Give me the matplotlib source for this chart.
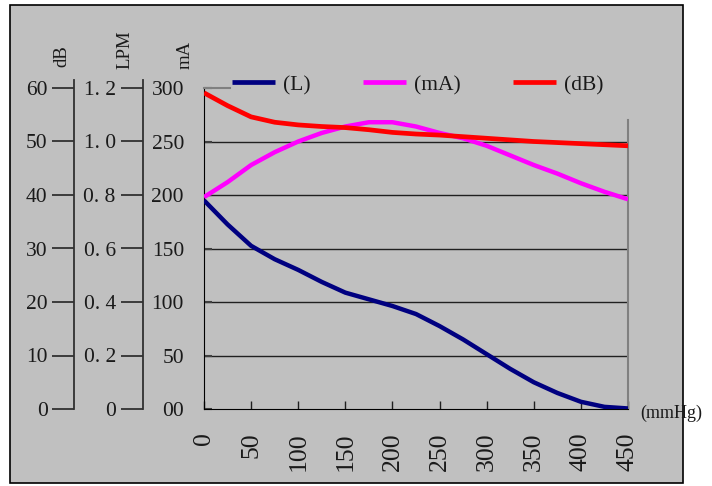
import matplotlib
matplotlib.use("Agg")
import matplotlib.pyplot as plt
from matplotlib.patches import Rectangle

plt.rcParams['font.family'] = ['Liberation Serif', 'DejaVu Serif']

# ---- data ----
pressure = [0, 25, 50, 75, 100, 125, 150, 175, 200, 225, 250, 275, 300, 325, 350, 375, 400, 425, 450]
flow_lpm = [0.78, 0.69, 0.61, 0.56, 0.52, 0.475, 0.435, 0.41, 0.385, 0.355, 0.31, 0.26, 0.205, 0.15, 0.10, 0.06, 0.027, 0.008, 0.002]
current_ma = [198, 212, 228, 240, 250, 258, 264, 268, 268, 264, 258, 253, 246, 237, 228, 220, 211, 203, 196]
noise_db = [59.1, 56.7, 54.6, 53.6, 53.1, 52.8, 52.6, 52.2, 51.7, 51.4, 51.2, 50.9, 50.6, 50.3, 50.0, 49.8, 49.6, 49.4, 49.2]

x_ticks = [0, 50, 100, 150, 200, 250, 300, 350, 400, 450]
ma_ticks = [0, 50, 100, 150, 200, 250, 300]
ma_labels = ['00', '50', '100', '150', '200', '250', '300']
lpm_ticks = [0, 0.2, 0.4, 0.6, 0.8, 1.0, 1.2]
lpm_labels = ['0', '0. 2', '0. 4', '0. 6', '0. 8', '1. 0', '1. 2']
db_ticks = [0, 10, 20, 30, 40, 50, 60]
db_labels = ['0', '10', '20', '30', '40', '50', '60']
grid_levels = [50, 100, 150, 200, 250]
series_names = ['(L)', '(mA)', '(dB)']

W, H = 712, 486
fig = plt.figure(figsize=(W / 100, H / 100), dpi=100)
fig.patch.set_facecolor('white')

def fx(px):
    return px / W

def fy(py):
    return 1 - py / H

# background frame
fig.patches.append(Rectangle((fx(10), fy(483)), fx(683) - fx(10), fy(5) - fy(483),
                             transform=fig.transFigure, facecolor='#C0C0C0',
                             edgecolor='black', linewidth=1.2, zorder=-10))

FS = 15.5
FSX = 18.5
TXT = '#1a1a1a'

# main axes
left, right, top, bottom = 204, 628, 88, 409
ax = fig.add_axes([fx(left), fy(bottom), fx(right) - fx(left), fy(top) - fy(bottom)])
ax.set_facecolor('none')
ax.set_xlim(0, 450)
ax.set_ylim(0, 300)
for lv in grid_levels:
    ax.axhline(lv, color='#202020', linewidth=1.0, zorder=1)
ax.spines['left'].set_color('black')
ax.spines['bottom'].set_color('black')
ax.spines['right'].set_color('#808080')
ax.spines['right'].set_linewidth(1.5)
ax.spines['right'].set_bounds(0, 270)
ax.spines['top'].set_color('#808080')
ax.spines['top'].set_linewidth(1.5)
ax.spines['top'].set_bounds(0, 28)
ax.set_xticks(x_ticks)
ax.set_xticklabels([str(v) for v in x_ticks], rotation=90, fontsize=FSX, color=TXT)
ax.set_yticks(ma_ticks)
ax.set_yticklabels(ma_labels, fontsize=FS, color=TXT)
ax.tick_params(axis='x', direction='in', length=6, width=1, color='#202020', pad=17)
ax.tick_params(axis='y', direction='in', length=6, width=1.5, color='#404040', pad=14.4)

# twin axes for other units (same pixel scale)
ax_l = ax.twinx()
ax_l.set_ylim(0, 1.2)
ax_d = ax.twinx()
ax_d.set_ylim(0, 60)
for t in (ax_l, ax_d):
    t.set_axis_off()

h1, = ax_l.plot(pressure, flow_lpm, color='#000080', linewidth=3.2, solid_capstyle='butt', zorder=3)
h2, = ax.plot(pressure, current_ma, color='#FF00FF', linewidth=3.2, solid_capstyle='butt', zorder=3)
h3, = ax_d.plot(pressure, noise_db, color='#FF0000', linewidth=3.4, solid_capstyle='butt', zorder=4)

leg = fig.legend([h1, h2, h3], series_names, loc='center left',
                 bbox_to_anchor=(fx(232), fy(85)), bbox_transform=fig.transFigure,
                 ncol=3, frameon=False, fontsize=FS, borderpad=0, borderaxespad=0,
                 handlelength=2.0, handletextpad=0.35, columnspacing=2.45)
for t in leg.get_texts():
    t.set_color(TXT)
for lh in leg.legend_handles:
    lh.set_linewidth(3.4)

# side axes: LPM and dB
side_top = 80
scale = (bottom - side_top) / (bottom - top)

def side_axis(px, ticks, labels, vmax, pad):
    a = fig.add_axes([fx(px), fy(bottom), 0.0005, fy(side_top) - fy(bottom)])
    a.set_facecolor('none')
    a.set_ylim(0, vmax * scale)
    a.set_xticks([])
    for s in ('top', 'right', 'bottom'):
        a.spines[s].set_visible(False)
    a.spines['left'].set_color('#303030')
    a.spines['left'].set_linewidth(1.3)
    a.set_yticks(ticks)
    a.set_yticklabels(labels, fontsize=FS, color=TXT)
    a.tick_params(axis='y', direction='out', length=16, width=1.3, color='#303030', pad=pad)
    return a

side_axis(143, lpm_ticks, lpm_labels, 1.2, 3.6)
side_axis(74, db_ticks, db_labels, 60, 2.9)

# axis unit labels
fig.text(fx(62), fy(67), 'dB', rotation=90, ha='center', va='bottom', fontsize=13.5, color=TXT)
fig.text(fx(125), fy(69), 'LPM', rotation=90, ha='center', va='bottom', fontsize=13.5, color=TXT)
fig.text(fx(185), fy(69), 'mA', rotation=90, ha='center', va='bottom', fontsize=13.5, color=TXT)
fig.text(fx(640), fy(413), '(mmHg)', ha='left', va='center', fontsize=13, color=TXT)

fig.savefig('out.png', dpi=100, facecolor=fig.get_facecolor())
